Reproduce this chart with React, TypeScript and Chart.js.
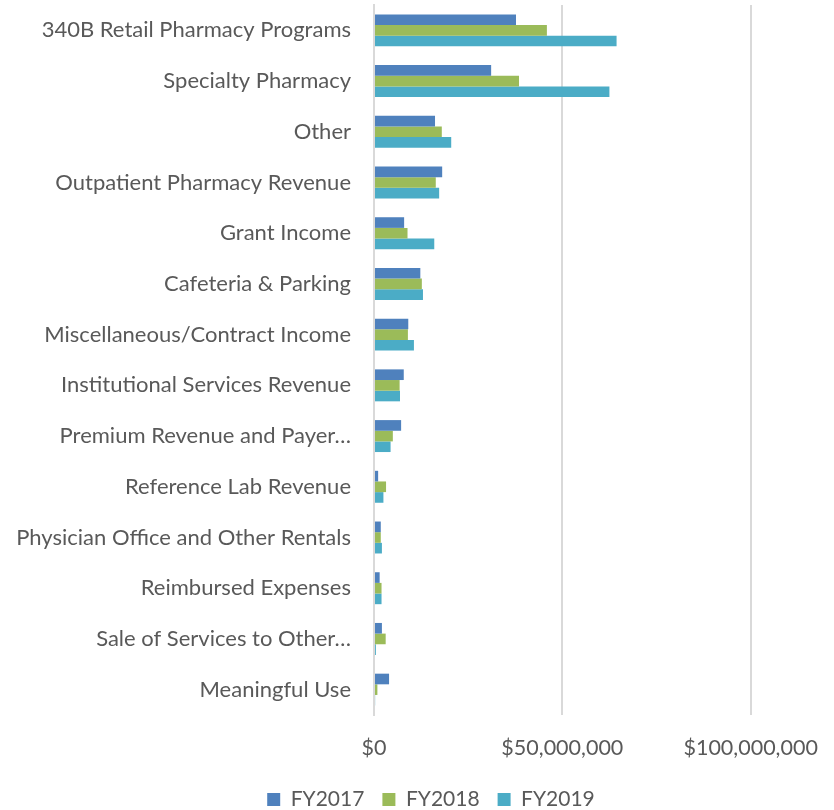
import React, { useEffect, useRef } from "react";
import { Chart, registerables } from "chart.js";

Chart.register(...registerables);

const categories = [
  "340B Retail Pharmacy Programs",
  "Specialty Pharmacy",
  "Other",
  "Outpatient Pharmacy Revenue",
  "Grant Income",
  "Cafeteria & Parking",
  "Miscellaneous/Contract Income",
  "Institutional Services Revenue",
  "Premium Revenue and Payer…",
  "Reference Lab Revenue",
  "Physician Office and Other Rentals",
  "Reimbursed Expenses",
  "Sale of Services to Other…",
  "Meaningful Use",
];

const fy2017 = [37700000, 31100000, 16200000, 18100000, 8000000, 12300000, 9100000, 7900000, 7200000, 1100000, 1800000, 1500000, 2100000, 4000000];
const fy2018 = [45900000, 38500000, 18000000, 16400000, 8900000, 12700000, 9000000, 6800000, 5000000, 3200000, 1800000, 2000000, 3100000, 900000];
const fy2019 = [64400000, 62500000, 20500000, 17300000, 16000000, 13000000, 10600000, 6900000, 4400000, 2500000, 2100000, 2000000, 500000, 300000];

const seriesNames = ["FY2017", "FY2018", "FY2019"];
const seriesColors = ["#4F81BD", "#9BBB59", "#4BACC6"];
const xTicks = [0, 50000000, 100000000];
const xMax = 120000000;

const FONT = "Lato, 'Open Sans', sans-serif";
const TEXT = "#595959";

const legendShift = {
  id: "legendShift",
  afterLayout(chart: any) {
    const lg = chart.legend;
    if (lg) {
      lg.left += 18;
      lg.right += 18;
    }
  },
};

export default function App() {
  const ref = useRef<HTMLCanvasElement | null>(null);

  useEffect(() => {
    if (!ref.current) return;
    const chart = new Chart(ref.current, {
      type: "bar",
      data: {
        labels: categories,
        datasets: [fy2017, fy2018, fy2019].map((d, i) => ({
          label: seriesNames[i],
          data: d,
          backgroundColor: seriesColors[i],
          borderWidth: 0,
          categoryPercentage: 0.63,
          barPercentage: 1.0,
        })),
      },
      plugins: [legendShift],
      options: {
        indexAxis: "y",
        animation: false,
        responsive: true,
        maintainAspectRatio: false,
        layout: { padding: { top: 5, right: 8, left: 0, bottom: 0 } },
        plugins: {
          tooltip: { enabled: false },
          legend: {
            position: "bottom",
            labels: {
              color: TEXT,
              font: { family: FONT, size: 21 },
              boxWidth: 13,
              boxHeight: 13,
              padding: 18,
            },
          },
        },
        scales: {
          x: {
            min: 0,
            max: xMax,
            afterFit: (s: any) => {
              s.height = 56;
              s.paddingLeft = 0;
              s.paddingRight = 0;
            },
            afterBuildTicks: (s: any) => {
              s.ticks = xTicks.map((v) => ({ value: v }));
            },
            ticks: {
              autoSkip: false,
              maxRotation: 0,
              color: TEXT,
              font: { family: FONT, size: 21.5 },
              padding: 20,
              callback: (v: any) => "$" + Number(v).toLocaleString("en-US"),
            },
            grid: {
              color: "#D9D9D9",
              lineWidth: 2,
              drawTicks: false,
            },
            border: { display: false },
          },
          y: {
            afterFit: (s: any) => {
              s.width = 374;
              s.paddingTop = 0;
              s.paddingBottom = 0;
            },
            ticks: {
              color: TEXT,
              font: { family: FONT, size: 22 },
              padding: 23,
              autoSkip: false,
            },
            grid: { display: false, drawTicks: false },
            border: { display: true, color: "#D9D9D9", width: 2 },
          },
        },
      },
    });
    return () => chart.destroy();
  }, []);

  return (
    <div style={{ position: "fixed", left: 0, top: 0, width: 834, height: 820, background: "#fff" }}>
      <canvas ref={ref} />
    </div>
  );
}
